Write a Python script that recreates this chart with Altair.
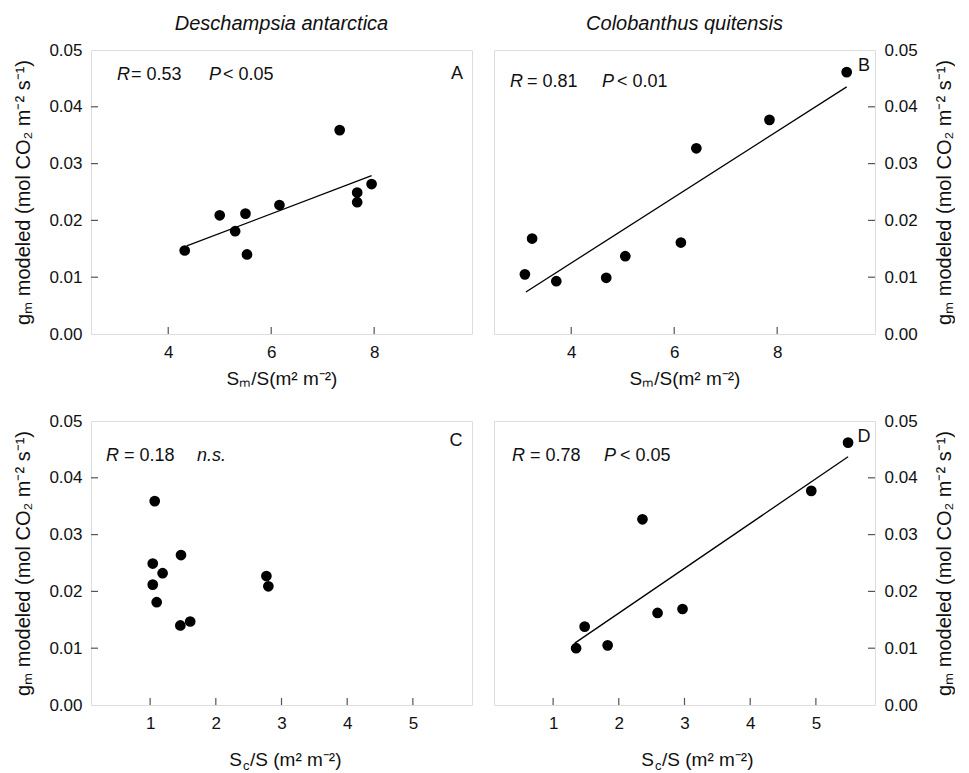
import altair as alt
import pandas as pd

# Deschampsia antarctica
da_sm = [4.32, 5.00, 5.30, 5.50, 5.53, 6.16, 7.33, 7.67, 7.67, 7.95]
da_sc = [1.61, 2.80, 1.10, 1.04, 1.46, 2.77, 1.07, 1.04, 1.19, 1.47]
da_gm = [0.0147, 0.0209, 0.0181, 0.0212, 0.0140, 0.0227, 0.0359, 0.0249, 0.0232, 0.0264]
da_fit_sm = [4.36, 7.95]
da_fit_gm = [0.0155, 0.0279]

# Colobanthus quitensis
cq_sm = [3.10, 3.24, 3.71, 4.68, 5.05, 6.13, 6.43, 7.85, 9.35]
cq_sm_gm = [0.0105, 0.0168, 0.0093, 0.0099, 0.0137, 0.0161, 0.0327, 0.0377, 0.0461]
cq_fit_sm = [3.12, 9.35]
cq_fit_sm_gm = [0.0074, 0.0435]
cq_sc = [1.35, 1.48, 1.83, 2.36, 2.59, 2.97, 4.93, 5.49]
cq_sc_gm = [0.0100, 0.0138, 0.0105, 0.0327, 0.0162, 0.0169, 0.0377, 0.0462]
cq_fit_sc = [1.33, 5.49]
cq_fit_sc_gm = [0.0109, 0.0437]

y_ticks = [0.01, 0.02, 0.03, 0.04]
y_labels = [0.0, 0.01, 0.02, 0.03, 0.04, 0.05]
sm_ticks = [4, 6, 8]
sc_ticks = [1, 2, 3, 4, 5]

W, H = 381, 284
FONT = "Liberation Sans"
INK = "#111"
Y_TITLE = "gₘ modeled (mol CO₂ m⁻² s⁻¹)"


def txt(s, x, y, size=18, italic=False, align="left"):
    return alt.Chart(pd.DataFrame({"t": [s]})).mark_text(
        font=FONT, fontSize=size, fontStyle="italic" if italic else "normal",
        align=align, baseline="middle", color=INK
    ).encode(text="t:N", x=alt.value(x), y=alt.value(y))


def panel(xs, ys, fit_x, fit_y, xdom, xticks, xtitle, right, extras, title=None):
    xscale = alt.Scale(domain=xdom, nice=False, zero=False)
    yscale = alt.Scale(domain=[0, 0.05], nice=False)
    xaxis = alt.Axis(values=xticks, format="d", ticks=False, tickSize=0, domain=False,
                     grid=False, labelPadding=10, labelFontSize=17, labelFont=FONT,
                     labelColor=INK, title=xtitle, titleFontSize=19, titleFont=FONT,
                     titleColor=INK, titleFontWeight="normal", titlePadding=9)
    yaxis = alt.Axis(values=y_labels, format=".2f", orient="right" if right else "left",
                     ticks=False, tickSize=0, domain=False, grid=False,
                     labelPadding=9, labelFontSize=17, labelFont=FONT, labelColor=INK,
                     title=Y_TITLE, titleFontSize=20, titleFont=FONT, titleColor=INK,
                     titleFontWeight="normal", titlePadding=17 if right else 15,
                     titleAngle=270, titleBaseline="top" if right else "bottom")
    pts = alt.Chart(pd.DataFrame({"x": xs, "y": ys})).mark_circle(
        size=115, color="black", opacity=1
    ).encode(x=alt.X("x:Q", scale=xscale, axis=xaxis),
             y=alt.Y("y:Q", scale=yscale, axis=yaxis))
    layers = [pts]
    if fit_x:
        layers.append(alt.Chart(pd.DataFrame({"x": fit_x, "y": fit_y})).mark_line(
            color="black", strokeWidth=1.3
        ).encode(x="x:Q", y="y:Q"))
    layers.append(alt.Chart(pd.DataFrame({"x": xticks})).mark_rule(
        color="#555", strokeWidth=1.2
    ).encode(x="x:Q", y=alt.value(H - 7), y2=alt.value(H)))
    x0, x1 = (W - 7, W) if right else (0, 7)
    layers.append(alt.Chart(pd.DataFrame({"y": y_ticks})).mark_rule(
        color="#555", strokeWidth=1.2
    ).encode(y="y:Q", x=alt.value(x0), x2=alt.value(x1)))
    layers += extras
    ch = alt.layer(*layers).properties(width=W, height=H)
    if title:
        ch = ch.properties(title=alt.TitleParams(
            title, font=FONT, fontSize=20, fontStyle="italic", fontWeight="normal",
            color=INK, frame="group", anchor="middle", offset=7))
    return ch


def sc_title(x0):
    return [txt("S", x0, H + 55, size=19, align="right"),
            txt("c", x0 + 1, H + 61, size=13),
            txt("/S (m² m⁻²)", x0 + 8, H + 55, size=19)]


sm_title = "Sₘ/S(m² m⁻²)"

a = panel(da_sm, da_gm, da_fit_sm, da_fit_gm, [2.5, 9.9], sm_ticks, sm_title, False,
          [txt("R", 26, 25, italic=True), txt("= 0.53", 40, 25),
           txt("P", 118, 25, italic=True), txt("< 0.05", 132, 25),
           txt("A", 366, 24, align="center")],
          title="Deschampsia antarctica")
b = panel(cq_sm, cq_sm_gm, cq_fit_sm, cq_fit_sm_gm, [2.5, 9.9], sm_ticks, sm_title, True,
          [txt("R", 16, 32, italic=True), txt("= 0.81", 33, 32),
           txt("P", 108, 32, italic=True), txt("< 0.01", 123, 32),
           txt("B", 370, 16, align="center")],
          title="Colobanthus quitensis")
c = panel(da_sc, da_gm, None, None, [0.1, 5.9], sc_ticks, None, False,
          [txt("R", 15, 35, italic=True), txt("= 0.18", 33, 35),
           txt("n.s.", 106, 35, italic=True),
           txt("C", 365, 20, align="center")] + sc_title(151))
d = panel(cq_sc, cq_sc_gm, cq_fit_sc, cq_fit_sc_gm, [0.1, 5.9], sc_ticks, None, True,
          [txt("R", 18, 35, italic=True), txt("= 0.78", 36, 35),
           txt("P", 110, 35, italic=True), txt("< 0.05", 126, 35),
           txt("D", 370, 16, align="center")] + sc_title(160))

chart = alt.vconcat(
    alt.hconcat(a, b, spacing=20),
    alt.hconcat(c, d, spacing=20),
    spacing=22,
).properties(
    padding={"left": 5, "top": 5, "right": 0, "bottom": 0}
).configure_view(
    stroke="#555", strokeWidth=1.5
).configure(background="white")

chart.save("out.html", embed_options={"renderer": "svg", "actions": False})
